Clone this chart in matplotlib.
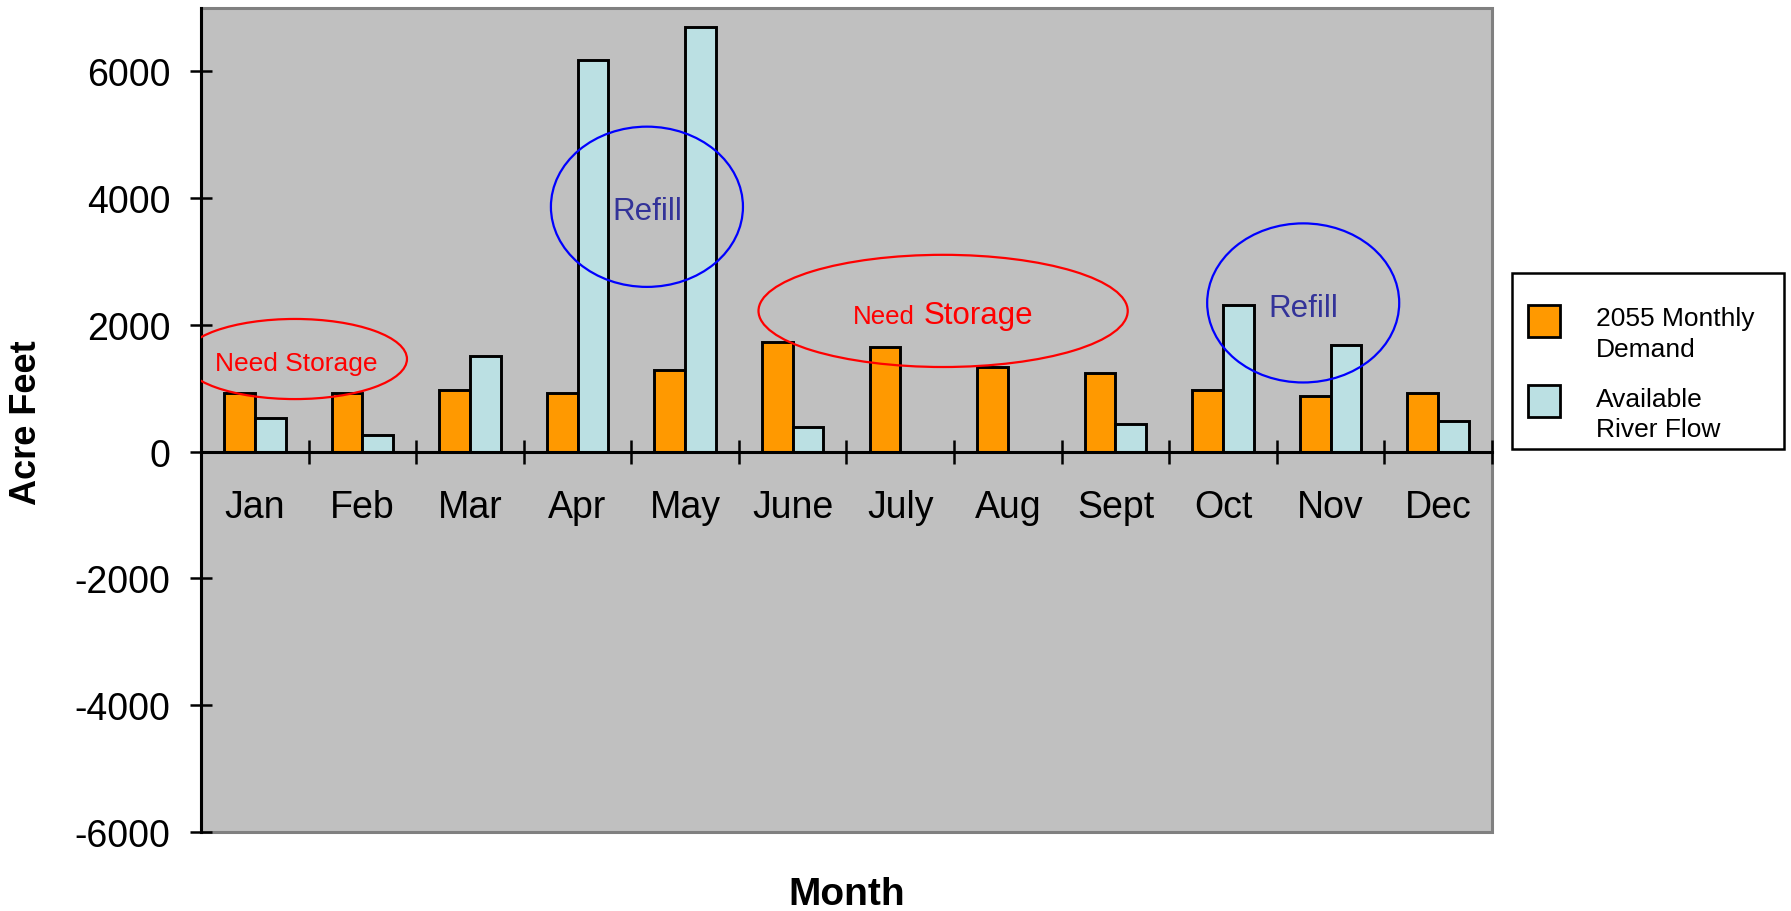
import matplotlib
matplotlib.use("Agg")
import matplotlib.pyplot as plt
from matplotlib.patches import Ellipse, Rectangle
import numpy as np

plt.rcParams['font.family'] = ['Liberation Sans', 'DejaVu Sans']

months = ["Jan", "Feb", "Mar", "Apr", "May", "June", "July", "Aug", "Sept", "Oct", "Nov", "Dec"]
demand_2055 = [930, 930, 980, 930, 1290, 1730, 1645, 1330, 1240, 970, 885, 930]
river_flow = [525, 270, 1510, 6180, 6705, 390, 0, 0, 440, 2310, 1680, 485]
y_ticks = [-6000, -4000, -2000, 0, 2000, 4000, 6000]
series_labels = ["2055 Monthly\nDemand", "Available\nRiver Flow"]

ORANGE = "#FF9900"
LIGHTBLUE = "#BBE0E3"
PLOT_BG = "#C0C0C0"
series_colors = [ORANGE, LIGHTBLUE]

W, H = 1791, 912
fig = plt.figure(figsize=(W / 100, H / 100), dpi=100)
left, right, top, bottom = 201, 1492, 9, 833
ax = fig.add_axes([left / W, 1 - bottom / H, (right - left) / W, (bottom - top) / H])
ax.set_facecolor(PLOT_BG)

x = np.arange(len(months))
bw = 0.286
ax.bar(x - bw / 2, demand_2055, width=bw, color=ORANGE, edgecolor="black", linewidth=2.1, zorder=3)
ax.bar(x + bw / 2, river_flow, width=bw, color=LIGHTBLUE, edgecolor="black", linewidth=2.1, zorder=3)

ax.set_xlim(-0.5, len(months) - 0.5)
ax.set_ylim(-6000, 7000)

# spines: black value axis, zero line as category axis, grey plot-area frame
for s in ("top", "right"):
    ax.spines[s].set_visible(False)
ax.spines["left"].set_color("black")
ax.spines["left"].set_linewidth(2.2)
ax.spines["bottom"].set_position(("data", 0))
ax.spines["bottom"].set_color("black")
ax.spines["bottom"].set_linewidth(2.2)
ax.spines["bottom"].set_zorder(4)
ax.add_patch(Rectangle((0, 0), 1, 1, transform=ax.transAxes, fill=False,
                       edgecolor="#808080", linewidth=2.2, clip_on=False, zorder=1))

ax.set_yticks(y_ticks)
ax.set_yticklabels([str(v) for v in y_ticks])
ax.tick_params(axis="y", direction="inout", length=16, width=1.8, pad=14, labelsize=27)

ax.set_xticks(x)
ax.set_xticklabels(months)
ax.set_xticks(np.arange(-0.5, len(months), 1.0), minor=True)
ax.tick_params(axis="x", which="major", length=0, pad=27, labelsize=27)
ax.tick_params(axis="x", which="minor", direction="inout", length=17, width=1.8)

# annotations
red, blue, navy = "#FF0000", "#0000FF", "#333399"
ax.add_patch(Ellipse((0.373, 1462), 2.083, 1264, fill=False, edgecolor=red, linewidth=1.6, zorder=5))
ax.text(0.387, 1296, "Need Storage", color=red, fontsize=19, ha="center", va="baseline", zorder=6)

ax.add_patch(Ellipse((3.645, 3864), 1.785, 2528, fill=False, edgecolor=blue, linewidth=1.6, zorder=5))
ax.text(3.651, 3664, "Refill", color=navy, fontsize=22.5, ha="center", va="baseline", zorder=6)

ax.add_patch(Ellipse((6.398, 2221), 3.432, 1770, fill=False, edgecolor=red, linewidth=1.6, zorder=5))
ax.text(6.137, 2024, "Need", color=red, fontsize=18.6, ha="right", va="baseline", zorder=6)
ax.text(6.22, 2024, "Storage", color=red, fontsize=22.5, ha="left", va="baseline", zorder=6)

ax.add_patch(Ellipse((9.745, 2347), 1.785, 2510, fill=False, edgecolor=blue, linewidth=1.6, zorder=5))
ax.text(9.746, 2146, "Refill", color=navy, fontsize=22.5, ha="center", va="baseline", zorder=6)

# axis titles
fig.text(847 / W, 1 - 895 / H, "Month", fontsize=28, fontweight="bold", ha="center", va="center")
fig.text(27 / W, 1 - 423 / H, "Acre Feet", fontsize=26, fontweight="bold", ha="center", va="center",
         rotation=90)

# legend box (figure pixel layout)
def fx(px):
    return px / W


def fy(py):
    return 1 - py / H


fig.patches.append(Rectangle((fx(1511.5), fy(450)), fx(1784) - fx(1511.5), fy(274) - fy(450),
                             transform=fig.transFigure, facecolor="white", edgecolor="black",
                             linewidth=1.8, zorder=1))
handle_tops = [306, 386]
line_baselines = [[325.7, 357.3], [406.7, 436.7]]
for color, label, htop, bases in zip(series_colors, series_labels, handle_tops, line_baselines):
    fig.patches.append(Rectangle((fx(1528), fy(htop + 32)), fx(32), fy(htop) - fy(htop + 32),
                                 transform=fig.transFigure, facecolor=color, edgecolor="black",
                                 linewidth=2.0, zorder=2))
    for line, base in zip(label.split("\n"), bases):
        fig.text(fx(1596), fy(base), line, fontsize=19, ha="left", va="baseline", zorder=3)

fig.savefig("out.png", dpi=100, facecolor="white")
